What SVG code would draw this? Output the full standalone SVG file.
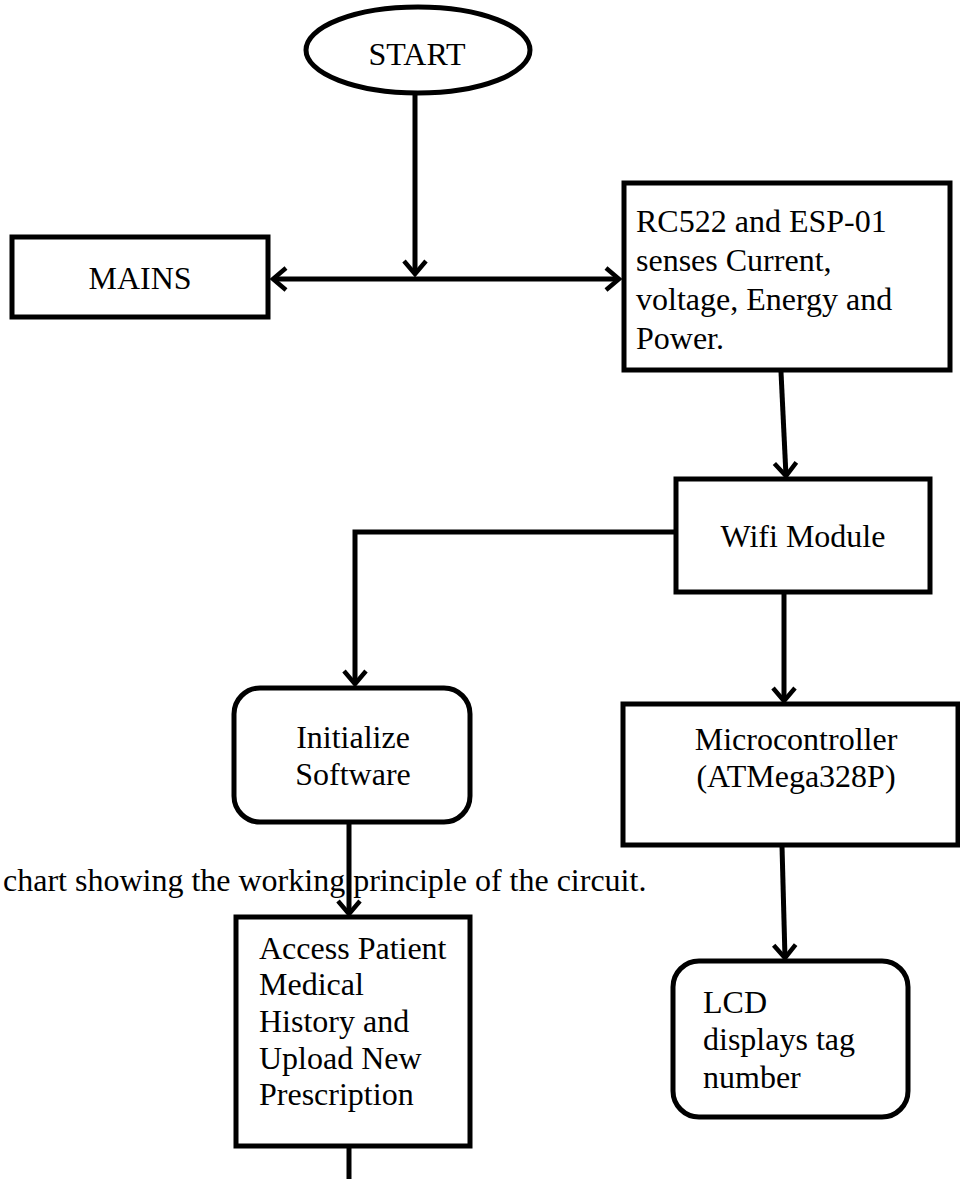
<svg xmlns="http://www.w3.org/2000/svg" width="960" height="1179" viewBox="0 0 960 1179">
<style>
.box{fill:#fff;stroke:#000;stroke-width:5}
.t{font-family:"Liberation Serif","Times New Roman",serif;font-size:32px;fill:#000}
.c{text-anchor:middle}
.ln{fill:none;stroke:#000;stroke-width:5}
</style>
<defs>
<marker id="ah" markerUnits="userSpaceOnUse" markerWidth="20" markerHeight="30" viewBox="-16 -14 20 28" refX="0" refY="0" orient="auto-start-reverse">
<path d="M-13,-11 L0,0 L-13,11" fill="none" stroke="#000" stroke-width="4.5"/>
</marker>
</defs>
<rect width="960" height="1179" fill="#fff"/>
<g id="connectors">
<line class="ln" x1="415" y1="95" x2="415" y2="274" marker-end="url(#ah)"/>
<line class="ln" x1="273" y1="279" x2="619" y2="279" marker-start="url(#ah)" marker-end="url(#ah)"/>
<line class="ln" x1="781" y1="372" x2="786" y2="476" marker-end="url(#ah)"/>
<polyline class="ln" points="676,532 355,532 355,684" marker-end="url(#ah)"/>
<line class="ln" x1="349" y1="824" x2="349" y2="914" marker-end="url(#ah)"/>
<line class="ln" x1="784" y1="594" x2="784" y2="701" marker-end="url(#ah)"/>
<line class="ln" x1="782" y1="846" x2="785" y2="958" marker-end="url(#ah)"/>
<line class="ln" x1="349" y1="1148" x2="349" y2="1179"/>
</g>
<g id="start">
<ellipse class="box" cx="418" cy="50" rx="112" ry="43"/>
<text class="t c" x="417" y="65">START</text>
</g>
<g id="mains">
<rect class="box" x="12" y="237" width="256" height="80"/>
<text class="t c" x="140" y="289">MAINS</text>
</g>
<g id="sensor">
<rect class="box" x="624" y="183" width="326" height="187"/>
<text class="t" x="636" y="232">RC522 and ESP-01</text>
<text class="t" x="636" y="271">senses Current,</text>
<text class="t" x="636" y="310">voltage, Energy and</text>
<text class="t" x="636" y="349">Power.</text>
</g>
<g id="wifi">
<rect class="box" x="676" y="479" width="254" height="113"/>
<text class="t c" x="803" y="547">Wifi Module</text>
</g>
<g id="init">
<rect class="box" x="234" y="688" width="236" height="134" rx="26" ry="26"/>
<text class="t c" x="353" y="748">Initialize</text>
<text class="t c" x="353" y="785">Software</text>
</g>
<g id="access">
<rect class="box" x="236" y="917" width="234" height="229"/>
<text class="t" x="259" y="959">Access Patient</text>
<text class="t" x="259" y="995">Medical</text>
<text class="t" x="259" y="1032">History and</text>
<text class="t" x="259" y="1069">Upload New</text>
<text class="t" x="259" y="1105">Prescription</text>
</g>
<g id="micro">
<rect class="box" x="623" y="704" width="335" height="141"/>
<text class="t c" x="796" y="750">Microcontroller</text>
<text class="t c" x="796" y="787">(ATMega328P)</text>
</g>
<g id="lcd">
<rect class="box" x="673" y="961" width="235" height="156" rx="26" ry="26"/>
<text class="t" x="703" y="1013">LCD</text>
<text class="t" x="703" y="1050">displays tag</text>
<text class="t" x="703" y="1088">number</text>
</g>
<g id="caption">
<text class="t" x="3" y="891">chart showing the working principle of the circuit.</text>
</g>
</svg>
